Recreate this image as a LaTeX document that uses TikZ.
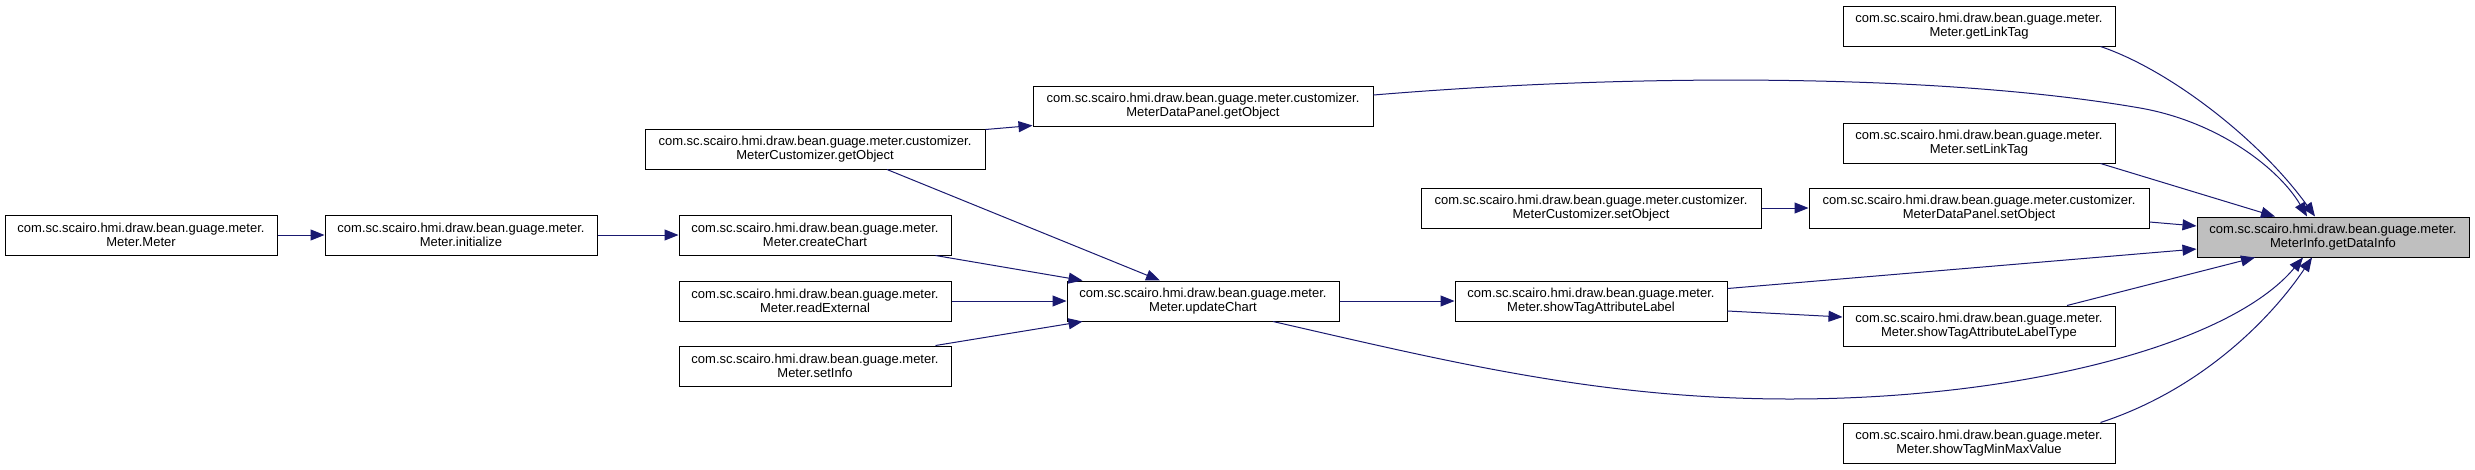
\documentclass[tikz,border=0pt]{standalone}
\usepackage{fontspec}
\setmainfont{Liberation Sans}
\usetikzlibrary{arrows.meta,calc}
\definecolor{edgeblue}{HTML}{191970}
\definecolor{hlgray}{HTML}{BFBFBF}
\begin{document}
\begin{tikzpicture}[x=1pt,y=-1pt,
  fnbox/.style={draw=black,line width=1pt,fill=white,minimum width=272pt,minimum height=40pt,
    inner sep=0pt,align=center,font=\fontsize{13}{14.5}\selectfont},
  widebox/.style={fnbox,minimum width=340pt},
  hlbox/.style={fnbox,fill=hlgray},
  calls/.style={draw=edgeblue,line width=1pt,-{Triangle[length=14pt,width=11pt]},color=edgeblue}]
\useasboundingbox (0,0) rectangle (2475,469);
\fill[white] (0,0) rectangle (2475,469);

\node[fnbox] (mm) at (141,235) {com.sc.scairo.hmi.draw.bean.guage.meter.\\Meter.Meter};
\node[fnbox] (init) at (461,235) {com.sc.scairo.hmi.draw.bean.guage.meter.\\Meter.initialize};
\node[widebox] (mcget) at (815,149) {com.sc.scairo.hmi.draw.bean.guage.meter.customizer.\\MeterCustomizer.getObject};
\node[widebox] (mdpget) at (1203,106) {com.sc.scairo.hmi.draw.bean.guage.meter.customizer.\\MeterDataPanel.getObject};
\node[fnbox] (create) at (815,235) {com.sc.scairo.hmi.draw.bean.guage.meter.\\Meter.createChart};
\node[fnbox] (readext) at (815,301) {com.sc.scairo.hmi.draw.bean.guage.meter.\\Meter.readExternal};
\node[fnbox] (setinfo) at (815,366) {com.sc.scairo.hmi.draw.bean.guage.meter.\\Meter.setInfo};
\node[fnbox] (update) at (1203,301) {com.sc.scairo.hmi.draw.bean.guage.meter.\\Meter.updateChart};
\node[fnbox] (showtal) at (1591,301) {com.sc.scairo.hmi.draw.bean.guage.meter.\\Meter.showTagAttributeLabel};
\node[fnbox] (getlink) at (1979,26) {com.sc.scairo.hmi.draw.bean.guage.meter.\\Meter.getLinkTag};
\node[fnbox] (setlink) at (1979,143) {com.sc.scairo.hmi.draw.bean.guage.meter.\\Meter.setLinkTag};
\node[widebox] (mcset) at (1591,208) {com.sc.scairo.hmi.draw.bean.guage.meter.customizer.\\MeterCustomizer.setObject};
\node[widebox] (mdpset) at (1979,208) {com.sc.scairo.hmi.draw.bean.guage.meter.customizer.\\MeterDataPanel.setObject};
\node[hlbox] (getdata) at (2333,237) {com.sc.scairo.hmi.draw.bean.guage.meter.\\MeterInfo.getDataInfo};
\node[fnbox] (showtalt) at (1979,326) {com.sc.scairo.hmi.draw.bean.guage.meter.\\Meter.showTagAttributeLabelType};
\node[fnbox] (minmax) at (1979,443) {com.sc.scairo.hmi.draw.bean.guage.meter.\\Meter.showTagMinMaxValue};

\draw[calls] (mm.east) -- (init.west);
\draw[calls] (init.east) -- (create.west);
\draw[calls] ($(create.south east)+(-16,0)$) -- ($(update.north west)+(16,0)$);
\draw[calls] (readext.east) -- (update.west);
\draw[calls] ($(setinfo.north east)+(-16,0)$) -- ($(update.south west)+(16,0)$);
\draw[calls] ($(mcget.south)+(72,0)$) -- ($(update.north)+(-43,0)$);
\draw[calls] ($(mcget.north east)+(0,1)$) -- ($(mdpget.south west)+(0,-1)$);
\draw[calls] ($(mdpget.east)+(0,-11)$) .. controls (1650,72) and (1950,75) .. (2140,108)
   .. controls (2220,122) and (2280,170) .. ($(getdata.north)+(-26,0)$);
\draw[calls] ($(getlink.south east)+(-15,0)$) .. controls (2170,70) and (2260,140) .. ($(getdata.north)+(-18,0)$);
\draw[calls] ($(setlink.south east)+(-15,0)$) -- ($(getdata.north)+(-58,0)$);
\draw[calls] ($(mdpset.east)+(0,14)$) -- ($(getdata.west)+(0,-11)$);
\draw[calls] (mcset.east) -- (mdpset.west);
\draw[calls] ($(showtal.north east)+(0,8)$) -- ($(getdata.west)+(0,12)$);
\draw[calls] (update.east) -- (showtal.west);
\draw[calls] ($(showtal.east)+(0,10)$) -- ($(showtalt.west)+(0,-9)$);
\draw[calls] ($(showtalt.north)+(88,0)$) -- ($(getdata.south)+(-78,0)$);
\draw[calls] ($(update.south)+(70,0)$) .. controls (1450,362) and (1600,399) .. (1790,399)
   .. controls (2020,399) and (2230,345) .. ($(getdata.south)+(-30,0)$);
\draw[calls] ($(minmax.north east)+(-15,0)$) .. controls (2200,390) and (2270,320) .. ($(getdata.south)+(-21,0)$);
\end{tikzpicture}
\end{document}
